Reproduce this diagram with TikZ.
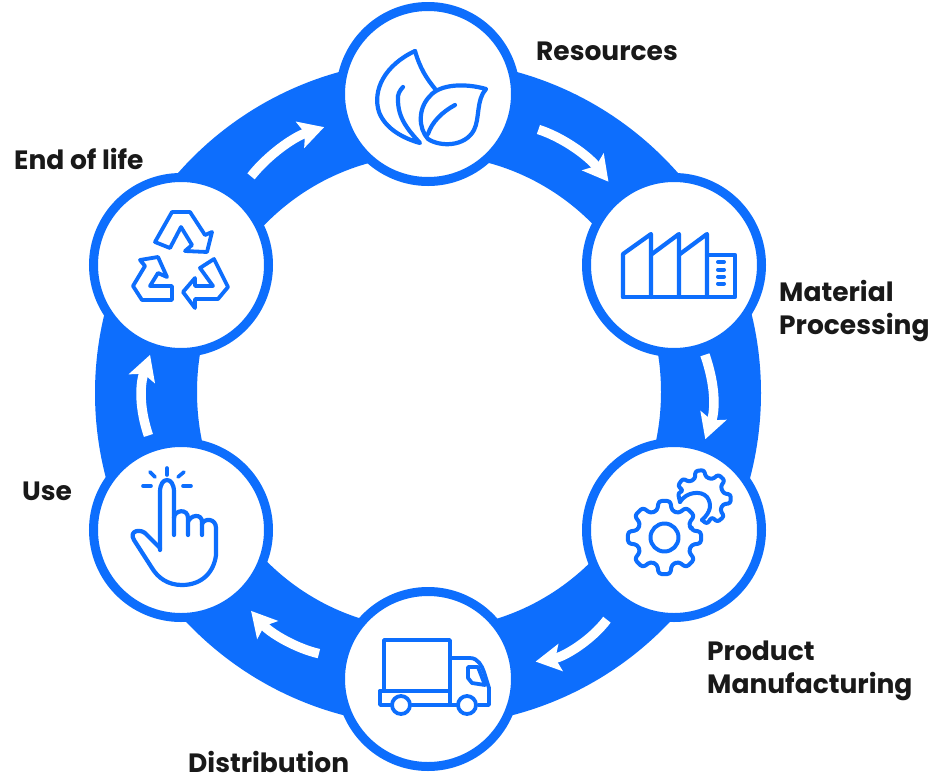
\documentclass[tikz,border=0pt]{standalone}
\usepackage{fontspec}
\setmainfont{Poppins}
\usetikzlibrary{arrows.meta}
\definecolor{brand}{HTML}{0D6EFD}
\tikzset{
  x=1pt,y=-1pt,
  stage/.style={circle,draw=brand,line width=9pt,fill=white,minimum size=175pt,inner sep=0pt},
  flow/.style 2 args={draw=white,line width=9.5pt,-{Stealth[length=25pt,width=27pt,inset=5pt]},shorten <=#1,shorten >=#2},
  lab/.style={font=\fontsize{26.5}{33}\selectfont\bfseries,text=black!90,align=left,anchor=west,inner sep=0pt},
  ico/.style={draw=brand,line width=4.2pt,line cap=round,line join=round},
}
\begin{document}
\begin{tikzpicture}
\useasboundingbox (0,0) rectangle (935,777);
\fill[white] (0,0) rectangle (935,777);
\fill[brand,even odd rule] (428,393) circle[radius=333pt] (429,392) ellipse[x radius=232pt,y radius=237pt];
\node[stage] (res) at (428,94) {};
\node[stage] (mat) at (674,265) {};
\node[stage] (man) at (674,530) {};
\node[stage] (dis) at (428,679) {};
\node[stage] (use) at (181,530) {};
\node[stage] (eol) at (181,265) {};
\draw[flow={24pt}{14pt}] (res) to[bend left=17] (mat);
\draw[flow={3pt}{4pt}] (mat) to[bend left=19] (man);
\draw[flow={20pt}{17pt}] (man) to[bend left=22] (dis);
\draw[flow={20pt}{15pt}] (dis) to[bend left=18] (use);
\draw[flow={8pt}{3pt}] (use) to[bend left=19] (eol);
\draw[flow={21pt}{17pt}] (eol) to[bend left=17] (res);
% leaves
\begin{scope}[shift={(340,0)}]
\draw[ico] (75,51) .. controls (45,65) and (32,90) .. (39,112) .. controls (45,128) and (62,138) .. (80,143) .. controls (68,130) and (58,118) .. (58,100) .. controls (57,95) and (60,90) .. (63,87);
\draw[ico] (75,51) .. controls (80,68) and (86,78) .. (96,90);
\draw[ico] (146,89) .. controls (125,83) and (100,84) .. (90,96) .. controls (78,108) and (78,128) .. (88,139) .. controls (100,147) and (125,147) .. (134,130) .. controls (140,118) and (136,100) .. (146,89) -- cycle;
\draw[ico] (88,134) .. controls (92,122) and (102,112) .. (115,105);
\end{scope}
% factory
\begin{scope}[shift={(580,180)}]
\draw[ico] (43,117) -- (43,74) -- (71,54) -- (71,117);
\draw[ico] (72,74) -- (99,54) -- (99,117);
\draw[ico] (100,74) -- (127,54) -- (127,117);
\draw[ico] (43,117) -- (155,117) -- (155,75) -- (127,75);
\foreach \yy in {82,89.5,96.5,103.5}{\draw[brand,line width=4pt,line cap=round] (138,\yy) -- (144,\yy);}
\end{scope}
% gears
\begin{scope}[shift={(580,440)}]
\draw[ico,line width=4pt] (84.5,97.5) circle[radius=14pt];
\begin{scope}[shift={(84.5,97.5)}]
\draw[ico,line width=4pt,rounded corners=3pt] (-15:28)
 \foreach \a in {0,45,...,315}{ -- (\a-15:28) -- (\a-9:37) -- (\a+9:37) -- (\a+15:28) } -- cycle;
\end{scope}
\begin{scope}[shift={(123,58)}]
\draw[ico,line width=4pt,rounded corners=2.5pt] (-23,4) -- (-25,-5)
 \foreach \a in {-145,-97,-48,2,50}{ -- (\a-15:21) -- (\a-9:28) -- (\a+9:28) -- (\a+15:21) } -- (4,26) -- (-1,22);
\draw[ico,line width=4pt] (-23,4) .. controls (-17,-6) and (-2,-8) .. (4,-1) .. controls (9,6) and (8,14) .. (-1,22);
\end{scope}
\end{scope}
% truck
\begin{scope}[shift={(340,590)}]
\draw[ico,line width=3.8pt] (44,101) -- (44,50) -- (110,50) -- (110,115);
\draw[ico,line width=3.8pt] (40,101) -- (110,101);
\draw[ico,line width=3.8pt] (50,115) -- (40,115) -- (40,101);
\draw[ico,line width=3.8pt] (72,115) -- (117,115);
\draw[ico,line width=3.8pt] (110,68) -- (130,68) .. controls (138,68) and (142,76) .. (144,82) -- (149,98) -- (149,115) -- (138,115);
\draw[ico,line width=3.8pt] (128,77) -- (138,77) -- (145,95) -- (132,93) -- (128,88) -- cycle;
\draw[ico,line width=3.8pt] (61,115) circle[radius=9pt];
\draw[ico,line width=3.8pt] (127,115) circle[radius=9pt];
\end{scope}
% hand
\begin{scope}[shift={(90,450)}]
\draw[ico] (70,100) -- (70,42) .. controls (70,26) and (84,26) .. (84,42) -- (84,85);
\draw[ico] (84,68) .. controls (84,60) and (98,58) .. (98,68) -- (98,85);
\draw[ico] (98,72) .. controls (100,65) and (112,63) .. (112,72) -- (112,85);
\draw[ico] (112,74) .. controls (114,68) and (126,68) .. (126,78) -- (126,105) .. controls (124,122) and (112,135) .. (92,135) .. controls (78,135) and (68,128) .. (62,118) -- (44,90) .. controls (38,80) and (52,78) .. (57,85) -- (70,98);
\draw[ico,line width=3.6pt] (77,18) -- (77,25);
\draw[ico,line width=3.6pt] (60,22) -- (65,27);
\draw[ico,line width=3.6pt] (94,22) -- (88,27);
\draw[ico,line width=3.6pt] (53,36) -- (61,36);
\draw[ico,line width=3.6pt] (93,36) -- (101,36);
\end{scope}
% recycle
\begin{scope}[shift={(90,180)}]
\draw[ico,line width=3.8pt] (65,62) -- (82,32) -- (100,32) -- (115,55) -- (122,52) -- (117,72) -- (95,71) -- (102,65) -- (91,47) -- (80,68) -- cycle;
\draw[ico,line width=3.8pt] (68,77) -- (50,80) -- (55,86) -- (43,106) -- (52,120) -- (82,120) -- (82,106) -- (60,106) -- (68,93) -- (77,97) -- cycle;
\draw[ico,line width=3.8pt] (124,79) -- (138,107) -- (128,119) -- (105,119) -- (105,128) -- (93,112) -- (105,98) -- (105,106) -- (123,106) -- (110,88) -- cycle;
\end{scope}
\node[lab] (t1) at (536,51) {Resources};
\node[lab] (t2) at (779,311) {Material\\Processing};
\node[lab] (t3) at (707,671) {Product\\Manufacturing};
\node[lab] (t4) at (188,762) {Distribution};
\node[lab] (t5) at (22,491) {Use};
\node[lab] (t6) at (14,159) {End of life};
\end{tikzpicture}
\end{document}
